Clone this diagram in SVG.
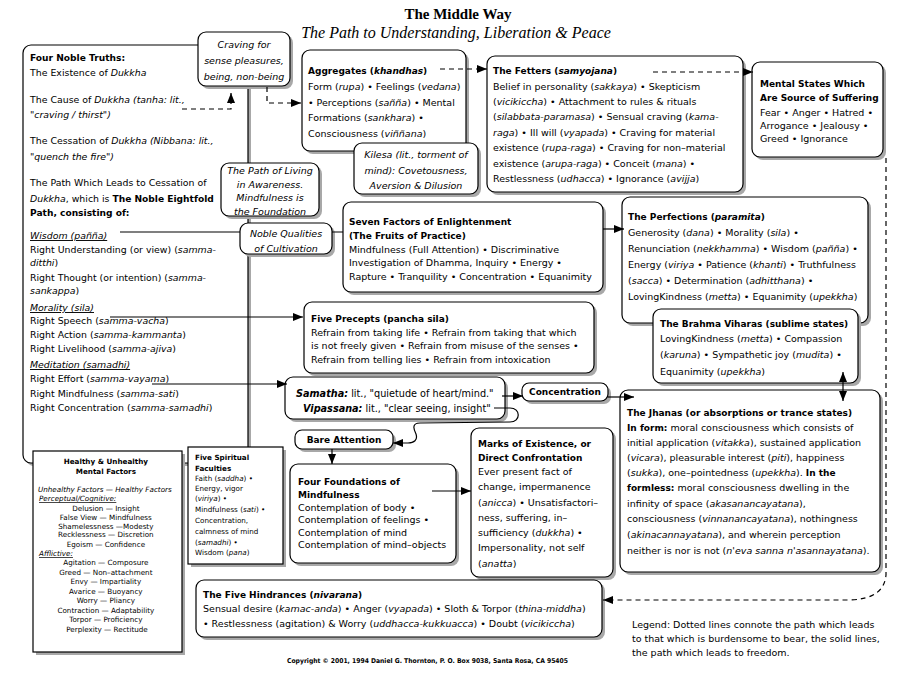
<svg xmlns="http://www.w3.org/2000/svg" width="901" height="673" viewBox="0 0 901 673">
<defs>
<marker id="ah" markerUnits="userSpaceOnUse" markerWidth="10" markerHeight="8" refX="10" refY="4" orient="auto-start-reverse"><path d="M0,0 L10,4 L0,8 z" fill="#000"/></marker>
</defs>
<style>
.box{fill:#fff;stroke:#000;stroke-width:1.2}
.sh{fill:#a8a8a8}
text{font-family:"DejaVu Sans",sans-serif;fill:#000}
.t{font-size:9.5px}
.L{font-size:9.4px}
.S{font-size:9.7px}
.s{font-size:7.2px}
.b{font-weight:bold}
.t .b{font-size:9px}
.L .b{font-size:9.1px}
.i{font-style:italic}
.u{text-decoration:underline}
.c{text-anchor:middle}
.con{fill:none;stroke:#000;stroke-width:1.2}
.d{stroke-dasharray:5,4}
.ttl{font-family:"Liberation Serif",serif}
</style>
<rect width="901" height="673" fill="#fff"/>
<text class="ttl c" x="458" y="19" font-size="15" font-weight="bold">The Middle Way</text>
<text class="ttl c" x="456" y="38" font-size="16" font-style="italic">The Path to Understanding, Liberation &amp; Peace</text>

<g id="noble-truths">
<rect class="sh" x="26" y="48" width="225" height="418" rx="8"/>
<rect class="box" x="23" y="45" width="225" height="418" rx="8"/>
<text class="L" x="30">
<tspan x="30" y="61" class="b">Four Noble Truths:</tspan>
<tspan x="30" y="76">The Existence of <tspan class="i">Dukkha</tspan></tspan>
<tspan x="30" y="103">The Cause of <tspan class="i">Dukkha (tanha: lit.,</tspan></tspan>
<tspan x="30" y="118" class="i">"craving / thirst")</tspan>
<tspan x="30" y="144">The Cessation of <tspan class="i">Dukkha (Nibbana: lit.,</tspan></tspan>
<tspan x="30" y="160" class="i">"quench the fire")</tspan>
<tspan x="30" y="186">The Path Which Leads to Cessation of</tspan>
<tspan x="30" y="202"><tspan class="i">Dukkha</tspan>, which is <tspan class="b">The Noble Eightfold</tspan></tspan>
<tspan x="30" y="216" class="b">Path, consisting of:</tspan>
<tspan x="30" y="239" class="i u">Wisdom (pañña)</tspan>
<tspan x="30" y="253">Right Understanding (or view) (<tspan class="i">samma-</tspan></tspan>
<tspan x="30" y="266"><tspan class="i">ditthi</tspan>)</tspan>
<tspan x="30" y="281">Right Thought (or intention) (<tspan class="i">samma-</tspan></tspan>
<tspan x="30" y="294"><tspan class="i">sankappa</tspan>)</tspan>
<tspan x="30" y="311" class="i u">Morality (sila)</tspan>
<tspan x="30" y="324">Right Speech (<tspan class="i">samma-vacha</tspan>)</tspan>
<tspan x="30" y="338">Right Action (<tspan class="i">samma-kammanta</tspan>)</tspan>
<tspan x="30" y="352">Right Livelihood (<tspan class="i">samma-ajiva</tspan>)</tspan>
<tspan x="30" y="368" class="i u">Meditation (samadhi)</tspan>
<tspan x="30" y="382">Right Effort (<tspan class="i">samma-vayama</tspan>)</tspan>
<tspan x="30" y="397">Right Mindfulness (<tspan class="i">samma-sati</tspan>)</tspan>
<tspan x="30" y="411">Right Concentration (<tspan class="i">samma-samadhi</tspan>)</tspan>
</text>
</g>

<g id="craving">
<rect class="sh" x="201" y="35" width="92" height="54" rx="8"/>
<rect class="box" x="198" y="32" width="92" height="54" rx="8"/>
<text class="t i c"><tspan x="244" y="48">Craving for</tspan><tspan x="244" y="64">sense pleasures,</tspan><tspan x="244" y="80">being, non-being</tspan></text>
</g>

<g id="path-of-living">
<rect class="sh" x="224" y="166" width="98" height="53" rx="8"/>
<rect class="box" x="221" y="163" width="98" height="53" rx="8"/>
<text class="t i c"><tspan x="270" y="174">The Path of Living</tspan><tspan x="270" y="188">in Awareness.</tspan><tspan x="270" y="201">Mindfulness is</tspan><tspan x="270" y="215">the Foundation</tspan></text>
</g>

<g id="noble-qualities">
<rect class="sh" x="243" y="226" width="92" height="31" rx="8"/>
<rect class="box" x="240" y="223" width="92" height="31" rx="8"/>
<text class="t i c"><tspan x="286" y="237">Noble Qualities</tspan><tspan x="286" y="252">of Cultivation</tspan></text>
</g>

<g id="aggregates">
<rect class="sh" x="305" y="53" width="164" height="101" rx="8"/>
<rect class="box" x="302" y="50" width="164" height="101" rx="8"/>
<text class="t">
<tspan x="308" y="74" class="b">Aggregates (<tspan class="i">khandhas</tspan>)</tspan>
<tspan x="308" y="90">Form (<tspan class="i">rupa</tspan>) • Feelings (<tspan class="i">vedana</tspan>)</tspan>
<tspan x="308" y="106">• Perceptions (<tspan class="i">sañña</tspan>) • Mental</tspan>
<tspan x="308" y="121">Formations (<tspan class="i">sankhara</tspan>) •</tspan>
<tspan x="308" y="137">Consciousness (<tspan class="i">viññana</tspan>)</tspan>
</text>
</g>

<g id="kilesa">
<rect class="sh" x="357" y="146" width="124" height="51" rx="8"/>
<rect class="box" x="354" y="143" width="124" height="51" rx="8"/>
<text class="t i c"><tspan x="416" y="158">Kilesa (lit., torment of</tspan><tspan x="416" y="174">mind): Covetousness,</tspan><tspan x="416" y="189">Aversion &amp; Dilusion</tspan></text>
</g>

<g id="fetters">
<rect class="sh" x="490" y="59" width="256" height="136" rx="8"/>
<rect class="box" x="487" y="56" width="256" height="136" rx="8"/>
<text class="t">
<tspan x="493" y="74" class="b">The Fetters (<tspan class="i">samyojana</tspan>)</tspan>
<tspan x="493" y="90">Belief in personality (<tspan class="i">sakkaya</tspan>) • Skepticism</tspan>
<tspan x="493" y="105">(<tspan class="i">vicikiccha</tspan>) • Attachment to rules &amp; rituals</tspan>
<tspan x="493" y="120">(<tspan class="i">silabbata-paramasa</tspan>) • Sensual craving (<tspan class="i">kama-</tspan></tspan>
<tspan x="493" y="136"><tspan class="i">raga</tspan>) • Ill will (<tspan class="i">vyapada</tspan>) • Craving for material</tspan>
<tspan x="493" y="151">existence (<tspan class="i">rupa-raga</tspan>) • Craving for non–material</tspan>
<tspan x="493" y="167">existence (<tspan class="i">arupa-raga</tspan>) • Conceit (<tspan class="i">mana</tspan>) •</tspan>
<tspan x="493" y="182">Restlessness (<tspan class="i">udhacca</tspan>) • Ignorance (<tspan class="i">avijja</tspan>)</tspan>
</text>
</g>

<g id="mental-states">
<rect class="sh" x="755" y="65" width="131" height="95" rx="8"/>
<rect class="box" x="752" y="62" width="131" height="95" rx="8"/>
<text class="t">
<tspan x="760" y="87" class="b">Mental States Which</tspan>
<tspan x="760" y="101" class="b">Are Source of Suffering</tspan>
<tspan x="760" y="116">Fear • Anger • Hatred •</tspan>
<tspan x="760" y="129">Arrogance • Jealousy •</tspan>
<tspan x="760" y="142">Greed • Ignorance</tspan>
</text>
</g>

<g id="seven-factors">
<rect class="sh" x="346" y="205" width="260" height="90" rx="8"/>
<rect class="box" x="343" y="202" width="260" height="90" rx="8"/>
<text class="t">
<tspan x="349" y="225" class="b">Seven Factors of Enlightenment</tspan>
<tspan x="349" y="239" class="b">(The Fruits of Practice)</tspan>
<tspan x="349" y="253">Mindfulness (Full Attention) • Discriminative</tspan>
<tspan x="349" y="266">Investigation of Dhamma, Inquiry • Energy •</tspan>
<tspan x="349" y="280">Rapture • Tranquility • Concentration • Equanimity</tspan>
</text>
</g>

<g id="perfections">
<rect class="sh" x="625" y="200" width="246" height="126" rx="8"/>
<rect class="box" x="622" y="197" width="246" height="126" rx="8"/>
<text class="t">
<tspan x="628" y="220" class="b">The Perfections (<tspan class="i">paramita</tspan>)</tspan>
<tspan x="628" y="236">Generosity (<tspan class="i">dana</tspan>) • Morality (<tspan class="i">sila</tspan>) •</tspan>
<tspan x="628" y="252">Renunciation (<tspan class="i">nekkhamma</tspan>) • Wisdom (<tspan class="i">pañña</tspan>) •</tspan>
<tspan x="628" y="268">Energy (<tspan class="i">viriya</tspan> • Patience (<tspan class="i">khanti</tspan>) • Truthfulness</tspan>
<tspan x="628" y="284">(<tspan class="i">sacca</tspan>) • Determination (<tspan class="i">adhitthana</tspan>) •</tspan>
<tspan x="628" y="300">LovingKindness (<tspan class="i">metta</tspan>) • Equanimity (<tspan class="i">upekkha</tspan>)</tspan>
</text>
</g>

<g id="brahma-viharas">
<rect class="sh" x="656" y="312" width="205" height="74" rx="8"/>
<rect class="box" x="653" y="309" width="205" height="74" rx="8"/>
<text class="t">
<tspan x="660" y="327" class="b">The Brahma Viharas (sublime states)</tspan>
<tspan x="660" y="342">LovingKindness (<tspan class="i">metta</tspan>) • Compassion</tspan>
<tspan x="660" y="358">(<tspan class="i">karuna</tspan>) • Sympathetic joy (<tspan class="i">mudita</tspan>) •</tspan>
<tspan x="660" y="375">Equanimity (<tspan class="i">upekkha</tspan>)</tspan>
</text>
</g>

<g id="five-precepts">
<rect class="sh" x="307" y="305" width="290" height="71" rx="8"/>
<rect class="box" x="304" y="302" width="290" height="71" rx="8"/>
<text class="t">
<tspan x="311" y="322" class="b">Five Precepts (pancha sila)</tspan>
<tspan x="311" y="336">Refrain from taking life • Refrain from taking that which</tspan>
<tspan x="311" y="349">is not freely given • Refrain from misuse of the senses •</tspan>
<tspan x="311" y="363">Refrain from telling lies • Refrain from intoxication</tspan>
</text>
</g>

<g id="samatha">
<rect class="sh" x="288" y="380" width="220" height="42" rx="8"/>
<rect class="box" x="285" y="377" width="220" height="42" rx="8"/>
<text class="S">
<tspan x="296" y="397"><tspan class="b i">Samatha:</tspan> lit., "quietude of heart/mind."</tspan>
<tspan x="303" y="412"><tspan class="b i">Vipassana:</tspan> lit., "clear seeing, insight"</tspan>
</text>
</g>

<g id="concentration">
<rect class="sh" x="525" y="386" width="86" height="18" rx="7"/>
<rect class="box" x="522" y="383" width="86" height="18" rx="7"/>
<text class="t c"><tspan class="b" x="565" y="395">Concentration</tspan></text>
</g>

<g id="bare-attention">
<rect class="sh" x="298" y="433" width="98" height="19" rx="7"/>
<rect class="box" x="295" y="430" width="98" height="19" rx="7"/>
<text class="t c"><tspan class="b" x="344" y="443">Bare Attention</tspan></text>
</g>

<g id="four-foundations">
<rect class="sh" x="293" y="467" width="166" height="99" rx="8"/>
<rect class="box" x="290" y="464" width="166" height="99" rx="8"/>
<text class="t">
<tspan x="298" y="485" class="b">Four Foundations of</tspan>
<tspan x="298" y="498" class="b">Mindfulness</tspan>
<tspan x="298" y="511">Contemplation of body •</tspan>
<tspan x="298" y="523">Contemplation of feelings •</tspan>
<tspan x="298" y="536">Contemplation of mind</tspan>
<tspan x="298" y="548">Contemplation of mind–objects</tspan>
</text>
</g>

<g id="marks">
<rect class="sh" x="474" y="431" width="142" height="149" rx="8"/>
<rect class="box" x="471" y="428" width="142" height="149" rx="8"/>
<text class="t">
<tspan x="478" y="447" class="b">Marks of Existence, or</tspan>
<tspan x="478" y="461" class="b">Direct Confrontation</tspan>
<tspan x="478" y="475">Ever present fact of</tspan>
<tspan x="478" y="490">change, impermanence</tspan>
<tspan x="478" y="506">(<tspan class="i">anicca</tspan>) • Unsatisfactori–</tspan>
<tspan x="478" y="521">ness, suffering, in–</tspan>
<tspan x="478" y="536">sufficiency (<tspan class="i">dukkha</tspan>) •</tspan>
<tspan x="478" y="551">Impersonality, not self</tspan>
<tspan x="478" y="567">(<tspan class="i">anatta</tspan>)</tspan>
</text>
</g>

<g id="jhanas">
<rect class="sh" x="623" y="393" width="260" height="182" rx="8"/>
<rect class="box" x="620" y="390" width="260" height="182" rx="8"/>
<text class="t">
<tspan x="627" y="416" class="b">The Jhanas (or absorptions or trance states)</tspan>
<tspan x="627" y="431"><tspan class="b">In form:</tspan> moral consciousness which consists of</tspan>
<tspan x="627" y="446">initial application (<tspan class="i">vitakka</tspan>), sustained application</tspan>
<tspan x="627" y="461">(<tspan class="i">vicara</tspan>), pleasurable interest (<tspan class="i">piti</tspan>), happiness</tspan>
<tspan x="627" y="476">(<tspan class="i">sukka</tspan>), one–pointedness (<tspan class="i">upekkha</tspan>). <tspan class="b">In the</tspan></tspan>
<tspan x="627" y="491"><tspan class="b">formless:</tspan> moral consciousness dwelling in the</tspan>
<tspan x="627" y="507">infinity of space (<tspan class="i">akasanancayatana</tspan>),</tspan>
<tspan x="627" y="522">consciousness (<tspan class="i">vinnanancayatana</tspan>), nothingness</tspan>
<tspan x="627" y="538">(<tspan class="i">akinacannayatana</tspan>), and wherein perception</tspan>
<tspan x="627" y="554">neither is nor is not (<tspan class="i">n'eva sanna n'asannayatana</tspan>).</tspan>
</text>
</g>

<g id="healthy-unhealthy">
<rect class="sh" x="36" y="454" width="149" height="201"/>
<rect class="box" x="33" y="451" width="149" height="201"/>
<text class="s c">
<tspan x="107" y="464" class="b">Healthy &amp; Unhealthy</tspan>
<tspan x="107" y="474" class="b">Mental Factors</tspan>
<tspan x="106" y="492" class="i">Unhealthy Factors — Healthy Factors</tspan>
<tspan x="107" y="511">Delusion — Insight</tspan>
<tspan x="107" y="520">False View — Mindfulness</tspan>
<tspan x="107" y="529">Shamelessness —Modesty</tspan>
<tspan x="107" y="537">Recklessness — Discretion</tspan>
<tspan x="107" y="547">Egoism — Confidence</tspan>
<tspan x="107" y="565">Agitation — Composure</tspan>
<tspan x="107" y="575">Greed — Non–attachment</tspan>
<tspan x="107" y="584">Envy — Impartiality</tspan>
<tspan x="107" y="594">Avarice — Buoyancy</tspan>
<tspan x="107" y="603">Worry — Pliancy</tspan>
<tspan x="107" y="613">Contraction — Adaptability</tspan>
<tspan x="107" y="622">Torpor — Proficiency</tspan>
<tspan x="107" y="632">Perplexity — Rectitude</tspan>
</text>
<text class="s i u"><tspan x="39" y="501">Perceptual/Cognitive:</tspan><tspan x="39" y="556">Afflictive:</tspan></text>
</g>

<g id="spiritual-faculties">
<rect class="sh" x="191" y="450" width="95" height="117"/>
<rect class="box" x="188" y="447" width="95" height="117"/>
<text class="s">
<tspan x="195" y="460" class="b">Five Spiritual</tspan>
<tspan x="195" y="471" class="b">Faculties</tspan>
<tspan x="195" y="481">Faith (<tspan class="i">saddha</tspan>) •</tspan>
<tspan x="195" y="491">Energy, vigor</tspan>
<tspan x="195" y="501">(<tspan class="i">viriya</tspan>) •</tspan>
<tspan x="195" y="512">Mindfulness (<tspan class="i">sati</tspan>) •</tspan>
<tspan x="195" y="523">Concentration,</tspan>
<tspan x="195" y="534">calmness of mind</tspan>
<tspan x="195" y="545">(<tspan class="i">samadhi</tspan>) •</tspan>
<tspan x="195" y="555">Wisdom (<tspan class="i">pana</tspan>)</tspan>
</text>
</g>

<g id="hindrances">
<rect class="sh" x="199" y="583" width="406" height="57" rx="8"/>
<rect class="box" x="196" y="580" width="406" height="57" rx="8"/>
<text class="t">
<tspan x="203" y="598" class="b">The Five Hindrances (<tspan class="i">nivarana</tspan>)</tspan>
<tspan x="203" y="612">Sensual desire (<tspan class="i">kamac-anda</tspan>) • Anger (<tspan class="i">vyapada</tspan>) • Sloth &amp; Torpor (<tspan class="i">thina-middha</tspan>)</tspan>
<tspan x="203" y="627">• Restlessness (agitation) &amp; Worry (<tspan class="i">uddhacca-kukkuacca</tspan>) • Doubt (<tspan class="i">vicikiccha</tspan>)</tspan>
</text>
</g>

<g id="legend">
<text class="t"><tspan x="632" y="628">Legend: Dotted lines connote the path which leads</tspan><tspan x="632" y="642">to that which is burdensome to bear, the solid lines,</tspan><tspan x="632" y="656">the path which leads to freedom.</tspan></text>
<text x="287" y="663" font-size="6.6" font-weight="bold" textLength="281" lengthAdjust="spacingAndGlyphs">Copyright © 2001, 1994 Daniel G. Thornton, P. O. Box 9038, Santa Rosa, CA 95405</text>
</g>

<g id="connectors">
<path class="con d" d="M182,109 H231 V93" marker-end="url(#ah)"/>
<path class="con d" d="M267,87 V103 H301" marker-end="url(#ah)"/>
<path class="con d" d="M440,69 H487" marker-end="url(#ah)"/>
<path class="con d" d="M653,72 H753" marker-end="url(#ah)"/>
<path class="con d" d="M886,158 V575 Q884,599 850,600 H603" marker-end="url(#ah)"/>
<path class="con" d="M120,232 H240 M332,232 H343"/>
<path class="con" d="M603,229 H624" marker-end="url(#ah)"/>
<path class="con" d="M110,317 H303" marker-end="url(#ah)"/>
<path class="con" d="M152,384 H287" marker-end="url(#ah)"/>
<path class="con" d="M502,396 H523" marker-end="url(#ah)"/>
<path class="con" d="M608,397 H634" marker-end="url(#ah)"/>
<path class="con" d="M843,372 V401" marker-start="url(#ah)" marker-end="url(#ah)"/>
<path class="con" d="M494,408 H510 C521,408 521,422 510,422 L420,423 C411,423 414,430 416,434 C418,440 414,443 408,443 H393" marker-end="url(#ah)"/>
<path class="con" d="M332,449 V464" marker-end="url(#ah)"/>
<path class="con" d="M432,491 H471" marker-end="url(#ah)"/>
</g>
</svg>
